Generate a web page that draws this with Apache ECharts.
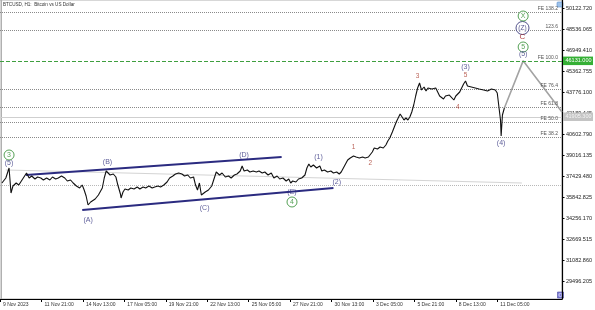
<!DOCTYPE html>
<html><head><meta charset="utf-8">
<script src="https://cdn.jsdelivr.net/npm/echarts@6/dist/echarts.min.js"></script>
<style>html,body{margin:0;padding:0;background:#fff}#c{width:595px;height:310px}</style>
</head><body><div id="c"></div>
<script>
// hours since 9 Nov 2023 05:00
const priceHours = [3,9,14,17,20,25,29,34,38,41,45,49,54,58,63,67,72,77,81,86,
90,95,100,104,109,113,118,123,127,130,133,136,140,143,147,152,155,158,161,164,
167,170,175,179,182,186,187,190,193,198,202,207,212,216,221,225,230,235,239,244,
248,253,258,262,267,271,276,281,285,290,294,299,302,305,308,311,314,317,322,327,
330,334,339,343,348,353,357,362,366,371,374,377,382,386,391,396,400,405,409,414,
419,423,428,432,437,442,446,449,452,457,461,466,471,474,477,480,484,489,494,497,
501,506,511,515,520,524,527,532,537,541,546,550,555,560,564,569,572,575,578,583,
587,592,596,599,602,606,609,612,615,618,621,624,627,630,633,636,639,642,645,648,
651,655,658,661,664,667,670,673,676,679,682,685,688,691,694,697,701,704,707,710,
713,716,719,722,725,728,731,734,737,740,743,747,750,753,756,759,762,765,768,771,
773,774,776,779];
const priceValues = [36900,37278,38034,36145,36674,36900,36749,37127,37429,37656,37278,37429,37203,37354,37278,37127,37278,37127,37354,37203,
37278,37429,37278,37052,37127,36900,36674,36523,36749,36372,35918,35238,35465,35616,35692,35994,35994,36523,37278,37807,
37732,37505,37580,37354,36749,36069,35767,36220,36447,36372,36523,36447,36598,36447,36598,36523,36674,36523,36598,36674,
36598,36749,36976,37278,37429,37580,37656,37580,37429,37505,37278,37354,36749,36372,36900,35994,35843,36220,36372,36674,
37127,37732,37505,37656,37354,37429,37278,37505,37580,37807,38185,37807,37883,37732,37807,37732,37807,37656,37732,37505,
37656,37278,37429,37203,37278,37052,37203,36900,37052,36976,37203,37278,37505,38034,38336,38109,38260,38034,38185,37807,
37883,37732,37807,37656,37732,37580,37732,38185,38638,38789,38940,38865,38789,38865,38789,38865,38714,39243,39545,39469,
39620,39545,39772,40074,40300,40754,41132,41509,41812,42114,41963,41660,41812,41660,41887,42265,42794,43474,44078,44456,
43927,44154,43852,44078,43927,44003,43852,44078,43776,43474,43625,43247,43474,43323,43549,43398,43172,43474,43625,43776,
43927,44381,44607,44229,44078,44154,44003,44078,43927,44003,44078,43927,44003,43852,43927,44003,43852,43927,43700,43549,
41660,40452,42038,42567];

const xTickLabels = ['9 Nov 2023','11 Nov 21:00','14 Nov 13:00','17 Nov 05:00','19 Nov 21:00','22 Nov 13:00','25 Nov 05:00','27 Nov 21:00','30 Nov 13:00','3 Dec 05:00','5 Dec 21:00','8 Dec 13:00','11 Dec 05:00'];
const yTickValues = [29496.205,31082.860,32669.515,34256.170,35842.825,37429.480,39016.135,40602.790,42189.445,43776.100,45362.755,46949.410,48536.065,50122.720];

const fibLevels = [49820,48460,46131,44003,42643,41509,40376];
const fibNames = ['FE 138.2','123.6','FE 100.0','FE 76.4','FE 61.8','FE 50.0','FE 38.2'];
const targetLevel = 46131;
const bidLevel = 41905;
const supportLevel = 36749;

const projectionHours = [779,808,868];
const projectionValues = [42567,46131,42265];
const channelUpperHours = [40,435];
const channelUpperValues = [37505,38864];
const channelLowerHours = [127,515];
const channelLowerValues = [34860,36522];
const trendHours = [9,806];
const trendValues = [37883,36900];

// wave labels: text, hour, price, kind
const waveText  = ['3','(5)','(A)','(B)','(C)','(D)','(E)','4','(1)','(2)','1','2','3','4','5','(3)','(4)','(5)','5','C','(Z)','X'];
const waveHours = [14,14,136,166,316,377,451,451,492,520,546,572,645,707,719,719,774,808,808,807,807,808];
const waveValues= [39016,38411,34105,38487,35012,39016,36220,35465,38865,36976,39620,38411,44985,42643,45060,45665,39923,46647,47176,47932,48612,49518];
const waveKind  = ['gc','n','n','n','n','n','n','gc','n','n','r','r','r','r','r','n','n','n','gc','dr','nc','gc'];

const zip = (a,b)=>a.map((v,i)=>[v,b[i]]);
const FONT = 'Liberation Sans, Arial, sans-serif';

const kindStyle = {
  n:  {color:'#35357f', circle:false, size:7},
  r:  {color:'#a8392c', circle:false, size:6.5},
  dr: {color:'#a01818', circle:false, size:8},
  gc: {color:'#2c8a2c', circle:true, size:7, border:'#2c8a2c', sym:10},
  nc: {color:'#2b2b70', circle:true, size:6.5, border:'#2b2b70', sym:13}
};

const labelSeries = waveText.map((t,i)=>{
  const k = kindStyle[waveKind[i]];
  return {
    type:'scatter', z:10, silent:true, animation:false,
    symbol:'circle',
    symbolSize: k.circle ? k.sym : 1,
    itemStyle: k.circle ? {color:'#fff', borderColor:k.border, borderWidth:1} : {color:'rgba(0,0,0,0)'},
    label:{show:true, position:'inside', formatter:t, color:k.color, fontSize:k.size, fontFamily:FONT},
    data:[[waveHours[i], waveValues[i]]]
  };
});

const fibMarks = fibLevels.map((v,i)=>({
  yAxis:v,
  lineStyle: v===targetLevel ? {type:'dashed', color:'#3f9f3f', width:1} : {type:'dotted', color:'#8a8a8a', width:1},
  label:{show:true, position:'insideEndTop', formatter:fibNames[i], fontSize:5, color:'#555', fontFamily:FONT, distance:[4,1]}
}));

const chart = echarts.init(document.getElementById('c'), null, {renderer:'canvas'});
chart.setOption({
  animation:false,
  backgroundColor:'#fff',
  grid:{left:-1, right:30, top:0, bottom:11, show:true, borderColor:'#b0b0b0', borderWidth:1},
  xAxis:{
    type:'value', min:0, max:868, interval:64,
    axisLine:{show:true, onZero:false, lineStyle:{color:'#000', width:1}},
    axisTick:{show:true, length:3, lineStyle:{color:'#000'}, customValues: xTickLabels.map((_,i)=>i*64)},
    splitLine:{show:false},
    axisLabel:{fontSize:5, color:'#333', fontFamily:FONT, align:'left', margin:3, padding:[0,0,0,3],
      showMaxLabel:false,
      formatter:(v)=>{const i=Math.round(v/64); return xTickLabels[i]||'';}}
  },
  yAxis:{
    type:'value', position:'right', min:28136, max:50727.2, scale:true,
    axisLine:{show:true, onZero:false, lineStyle:{color:'#000', width:1.2}},
    axisTick:{show:true, length:2.5, lineStyle:{color:'#000'}, customValues:yTickValues},
    splitLine:{show:false},
    axisLabel:{fontSize:5.5, color:'#222', fontFamily:FONT, margin:4, customValues:yTickValues,
      formatter:(v)=>v.toFixed(3)}
  },
  graphic:[
    {type:'text', left:3, top:2, style:{text:'BTCUSD, H1:  Bitcoin vs US Dollar', fontSize:4.6, fill:'#333', fontFamily:FONT}},
    {type:'line', shape:{x1:1.5, y1:0, x2:1.5, y2:299}, style:{stroke:'#b0b0b0', lineWidth:1}},
    {type:'rect', shape:{x:557, y:2, width:6, height:5, r:1}, style:{fill:'#9fc3ea', stroke:'#5a8fd0', lineWidth:0.6}},
    {type:'rect', shape:{x:557.5, y:292, width:6, height:6}, style:{fill:'#7d7dd6', stroke:'#4a4aa0', lineWidth:0.6}},
    {type:'circle', shape:{cx:560.5, cy:295, r:1.6}, style:{fill:'none', stroke:'#e8e8ff', lineWidth:0.7}}
  ],
  series:[
    {type:'line', name:'trend', silent:true, symbol:'none', z:1,
     lineStyle:{color:'#d4d4d4', width:1}, data:zip(trendHours,trendValues)},
    {type:'line', name:'price', silent:true, symbol:'none', z:5,
     lineStyle:{color:'#111', width:1.1}, data:zip(priceHours,priceValues),
     markLine:{silent:true, symbol:['none','none'], animation:false,
       data:[...fibMarks,
         {yAxis:targetLevel, lineStyle:{color:'rgba(0,0,0,0)', width:0}, label:{show:true, position:'end', distance:1, formatter:'46131.000', backgroundColor:'#35b035', color:'#fff', fontSize:5.5, fontFamily:FONT, padding:[1.5,1.5,1,2.5]}},
         {yAxis:bidLevel, lineStyle:{type:'solid', color:'#cfcfcf', width:1}, label:{show:true, position:'end', distance:1, formatter:'41905.300', backgroundColor:'#c4c4c4', color:'#f4f4f4', fontSize:5.5, fontFamily:FONT, padding:[1.5,1.5,1,2.5]}},
         {yAxis:supportLevel, lineStyle:{type:'dotted', color:'#b8b8b8', width:1}, label:{show:false}}
       ]}},
    {type:'line', name:'projection', silent:true, symbol:'none', z:4,
     lineStyle:{color:'#a3a3a3', width:1.6}, data:zip(projectionHours,projectionValues)},
    {type:'line', name:'upper', silent:true, symbol:'none', z:3,
     lineStyle:{color:'#2b2b80', width:2}, data:zip(channelUpperHours,channelUpperValues)},
    {type:'line', name:'lower', silent:true, symbol:'none', z:3,
     lineStyle:{color:'#2b2b80', width:2}, data:zip(channelLowerHours,channelLowerValues)},
    ...labelSeries
  ]
});
</script></body></html>
